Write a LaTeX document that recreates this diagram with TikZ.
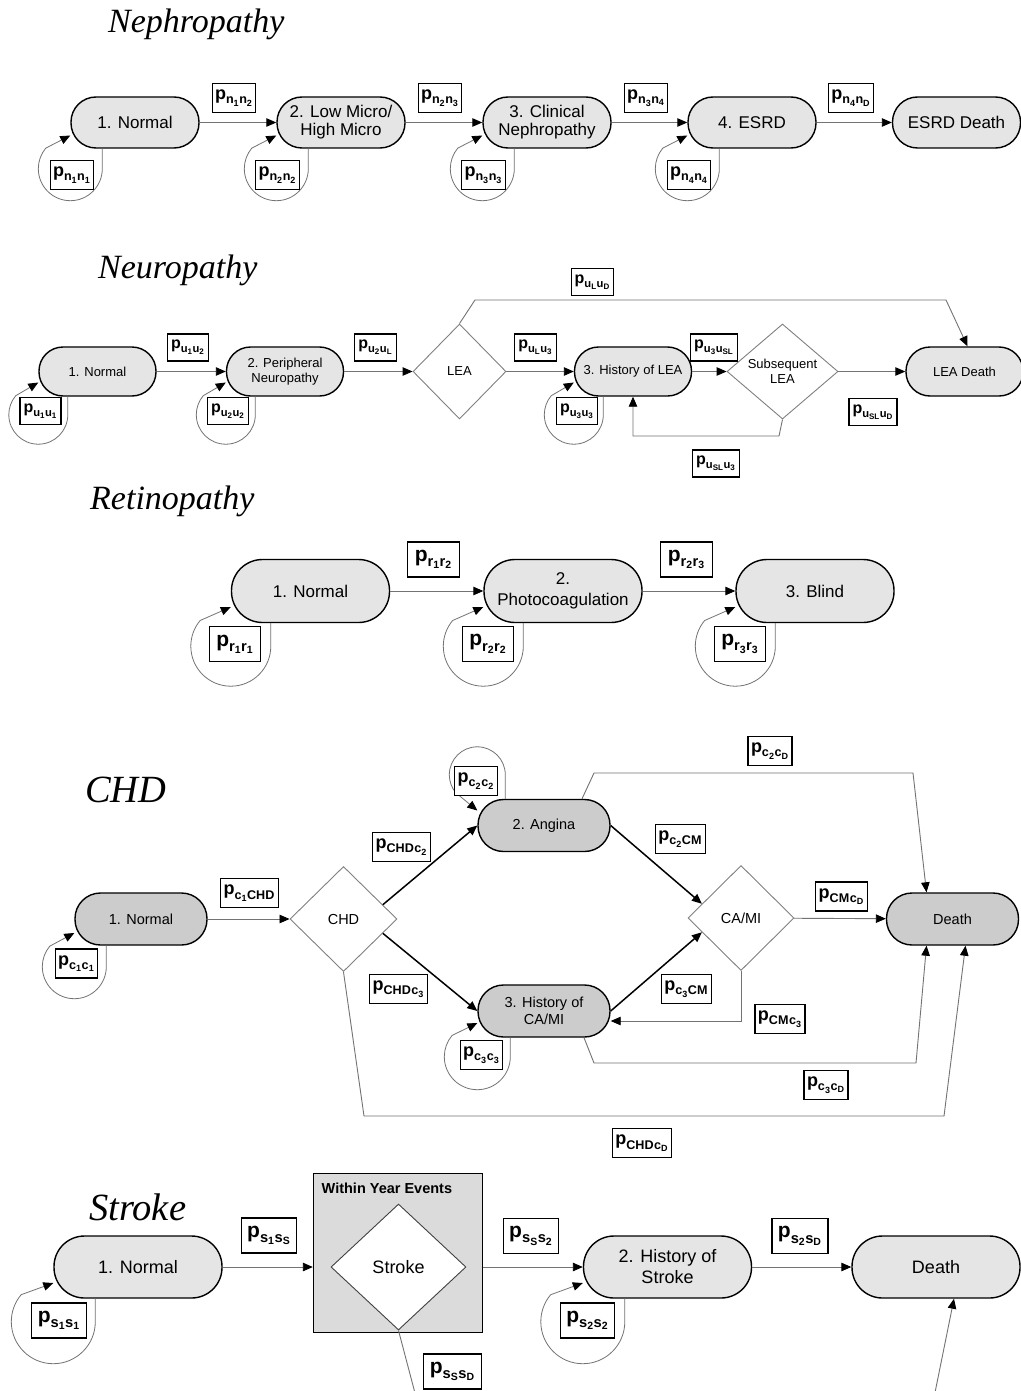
\documentclass[tikz,border=0pt]{standalone}
\usepackage{fontspec}
\usepackage{amsmath}
\setmainfont{Liberation Sans}
\newfontfamily\titlefont{Liberation Serif}
\usetikzlibrary{arrows.meta,shapes.geometric}

% transition probability label, e.g. \trp{n}{1}{n}{2}
\newcommand{\trp}[4]{$\textbf{p}_{\textbf{#1}_{\textbf{#2}}\textbf{#3}_{\textbf{#4}}}$}
% loop below a state: node, radius, drop, arrow offset
\newcommand{\selfloop}[4]{%
  \draw[loopline] (#1.west |- #1.south) ++(#2,0) -- ++(0,-#3)
    arc[start angle=0,end angle=-220,radius=#2] -- ([yshift=-#4]#1.west);}

\tikzset{
  pill/.style={rectangle, draw=black, line width=1.4pt, fill=gray!20, inner sep=0pt, align=center},
  nephpill/.style={pill, minimum width=128pt, minimum height=51pt, rounded corners=25pt, font=\fontsize{17}{18}\selectfont},
  neuropill/.style={pill, minimum width=117pt, minimum height=49pt, rounded corners=24pt, font=\fontsize{13}{15.5}\selectfont},
  retpill/.style={pill, minimum width=158pt, minimum height=63pt, rounded corners=31pt, font=\fontsize{17}{21}\selectfont},
  chdpill/.style={pill, fill=gray!40, minimum width=132pt, minimum height=52pt, rounded corners=25.5pt, font=\fontsize{14.5}{17}\selectfont},
  strokepill/.style={pill, minimum width=168pt, minimum height=62pt, rounded corners=30.5pt, font=\fontsize{18}{21}\selectfont},
  decision/.style={diamond, draw=black!50, line width=0.9pt, fill=white, inner sep=0pt, align=center},
  prob/.style={rectangle, draw=black, line width=1.2pt, fill=white, inner ysep=0pt},
  nephprob/.style={prob, font=\fontsize{18}{18}\selectfont, minimum height=29pt, inner xsep=2.8pt},
  neuroprob/.style={prob, font=\fontsize{16}{16}\selectfont, minimum height=27pt, inner xsep=3.5pt},
  retprob/.style={prob, font=\fontsize{21}{21}\selectfont, minimum height=35pt, inner xsep=7pt},
  chdprob/.style={prob, font=\fontsize{18}{18}\selectfont, minimum height=29pt, inner xsep=3pt},
  strokeprob/.style={prob, font=\fontsize{21}{21}\selectfont, minimum height=35pt, inner xsep=6pt},
  title/.style={font=\titlefont\itshape\fontsize{34}{40}\selectfont, anchor=base west, inner sep=0pt},
  bigtitle/.style={title, font=\titlefont\itshape\fontsize{38.5}{44}\selectfont},
  conn/.style={draw=black!55, line width=0.9pt, -{Triangle[length=10pt,width=8.5pt,color=black]}},
  boldconn/.style={draw=black, line width=1.5pt, -{Triangle[length=10pt,width=8.5pt]}},
  link/.style={draw=black!55, line width=0.9pt},
  loopline/.style={draw=black!55, line width=0.8pt, -{Triangle[length=10pt,width=8.5pt,color=black]}},
  wyebox/.style={rectangle, draw=black, line width=1.4pt, fill=gray!28, minimum width=169pt, minimum height=159pt}
}

\begin{document}
\begin{tikzpicture}[x=1pt,y=1pt]
\path[use as bounding box, fill=white] (0,0) rectangle (1020,-1391);

% Nephropathy
\node[title] (tneph) at (108,-33) {Nephropathy};
\node[nephpill] (n1) at (135,-122.5) {1. Normal};
\node[nephpill] (n2) at (341,-122.5) {2. Low Micro/\\High Micro};
\node[nephpill] (n3) at (547,-122.5) {3. Clinical\\Nephropathy};
\node[nephpill] (n4) at (752,-122.5) {4. ESRD};
\node[nephpill] (nD) at (956.5,-122.5) {ESRD Death};
\draw[conn] (n1) -- (n2);
\draw[conn] (n2) -- (n3);
\draw[conn] (n3) -- (n4);
\draw[conn] (n4) -- (nD);
\selfloop{n1}{32}{20}{13}
\selfloop{n2}{32}{20}{13}
\selfloop{n3}{32}{20}{13}
\selfloop{n4}{32}{20}{13}
\node[nephprob] (p-n12) at (234,-98) {\trp{n}{1}{n}{2}};
\node[nephprob] (p-n23) at (440,-98) {\trp{n}{2}{n}{3}};
\node[nephprob] (p-n34) at (646,-98) {\trp{n}{3}{n}{4}};
\node[nephprob] (p-n4D) at (851,-98) {\trp{n}{4}{n}{D}};
\node[nephprob] (p-n11) at (72,-175) {\trp{n}{1}{n}{1}};
\node[nephprob] (p-n22) at (277.5,-175) {\trp{n}{2}{n}{2}};
\node[nephprob] (p-n33) at (483.5,-175) {\trp{n}{3}{n}{3}};
\node[nephprob] (p-n44) at (689,-175) {\trp{n}{4}{n}{4}};

% Neuropathy
\node[title] (tneuro) at (98,-278) {Neuropathy};
\node[neuropill] (u1) at (97.5,-371.5) {1. Normal};
\node[neuropill] (u2) at (285,-371.5) {2. Peripheral\\Neuropathy};
\node[decision, minimum width=93pt, minimum height=95pt, font=\fontsize{13}{15.5}\selectfont] (lea) at (459.5,-371.5) {LEA};
\node[neuropill] (u3) at (633,-371.5) {3. History of LEA};
\node[decision, minimum width=111pt, minimum height=95pt, font=\fontsize{13}{15.5}\selectfont] (slea) at (782.5,-371.5) {Subsequent\\LEA};
\node[neuropill] (uD) at (964.5,-371.5) {LEA Death};
\draw[conn] (u1) -- (u2);
\draw[conn] (u2) -- (lea);
\draw[conn] (lea) -- (u3);
\draw[conn] (u3) -- (slea);
\draw[conn] (slea) -- (uD);
\draw[conn] (lea.north) -- (475,-300) -- (946,-300) -- ([xshift=3pt]uD.north);
\draw[conn] (slea.south) -- (779,-436) -| (u3.south);
\selfloop{u1}{29.5}{18}{11}
\selfloop{u2}{29.5}{18}{11}
\selfloop{u3}{29.5}{18}{11}
\node[neuroprob] (p-u12) at (188,-347.5) {\trp{u}{1}{u}{2}};
\node[neuroprob] (p-u2L) at (375.5,-347.5) {\trp{u}{2}{u}{L}};
\node[neuroprob] (p-uL3) at (535.5,-347.5) {\trp{u}{L}{u}{3}};
\node[neuroprob] (p-u3SL) at (714,-347.5) {\trp{u}{3}{u}{SL}};
\node[neuroprob] (p-uLD) at (592.5,-282) {\trp{u}{L}{u}{D}};
\node[neuroprob] (p-uSLD) at (873,-412) {\trp{u}{SL}{u}{D}};
\node[neuroprob] (p-uSL3) at (716,-463.5) {\trp{u}{SL}{u}{3}};
\node[neuroprob] (p-u11) at (40.5,-411) {\trp{u}{1}{u}{1}};
\node[neuroprob] (p-u22) at (228,-411) {\trp{u}{2}{u}{2}};
\node[neuroprob] (p-u33) at (577,-411) {\trp{u}{3}{u}{3}};

% Retinopathy
\node[title] (tret) at (90,-509) {Retinopathy};
\node[retpill] (r1) at (310.5,-591) {1. Normal};
\node[retpill] (r2) at (563,-591) {2.\\Photocoagulation};
\node[retpill] (r3) at (815,-591) {3. Blind};
\draw[conn] (r1) -- (r2);
\draw[conn] (r2) -- (r3);
\selfloop{r1}{40}{23}{16}
\selfloop{r2}{40}{23}{16}
\selfloop{r3}{40}{23}{16}
\node[retprob] (p-r12) at (433.5,-559.5) {\trp{r}{1}{r}{2}};
\node[retprob] (p-r23) at (686.5,-559.5) {\trp{r}{2}{r}{3}};
\node[retprob] (p-r11) at (235,-644) {\trp{r}{1}{r}{1}};
\node[retprob] (p-r22) at (488,-644) {\trp{r}{2}{r}{2}};
\node[retprob] (p-r33) at (740,-644) {\trp{r}{3}{r}{3}};

% CHD
\node[bigtitle] (tchd) at (85,-802) {CHD};
\node[chdpill] (c1) at (141,-919) {1. Normal};
\node[decision, minimum width=107pt, minimum height=105pt, font=\fontsize{14.5}{17}\selectfont] (chd) at (343.5,-919) {CHD};
\node[chdpill] (c2) at (544,-825.5) {2. Angina};
\node[chdpill] (c3) at (544,-1011) {3. History of\\CA/MI};
\node[decision, minimum width=106pt, minimum height=105pt, font=\fontsize{14.5}{17}\selectfont] (cami) at (741,-918) {CA/MI};
\node[chdpill] (cD) at (952.5,-919) {Death};
\draw[conn] (c1) -- (chd);
\draw[boldconn] (chd.20) -- (c2.west);
\draw[boldconn] (chd.-20) -- (c3.west);
\draw[boldconn] (c2.east) -- (cami.160);
\draw[boldconn] (c3.east) -- (cami.200);
\draw[conn] (cami.south) |- ([yshift=-10pt]c3.east);
\draw[conn] (cami) -- (cD);
\draw[conn] ([xshift=38pt]c2.north) -- (594,-773) -- (913,-773) -- ([xshift=-26pt]cD.north);
\draw[conn] ([xshift=40pt]c3.south) -- (594,-1063) -- (916,-1063) -- ([xshift=-26pt]cD.south);
\draw[conn] (chd.south) -- (364,-1116) -- (944,-1116) -- ([xshift=13pt]cD.south);
\selfloop{c1}{32}{21}{14}
\selfloop{c3}{33}{19}{12}
\draw[loopline] (c2.west |- c2.north) ++(28,0) -- ++(0,24)
  arc[start angle=0,end angle=220,radius=28] -- ([yshift=15pt]c2.west);
\node[chdprob] (p-c1CHD) at (249.5,-893) {\trp{c}{1}{CHD}{}};
\node[chdprob] (p-CHDc2) at (401.5,-847) {\trp{CHD}{}{c}{2}};
\node[chdprob] (p-CHDc3) at (398.5,-989) {\trp{CHD}{}{c}{3}};
\node[chdprob] (p-c2CM) at (680.5,-839) {\trp{c}{2}{CM}{}};
\node[chdprob] (p-c3CM) at (686.5,-989) {\trp{c}{3}{CM}{}};
\node[chdprob] (p-CMc3) at (780,-1019) {\trp{CM}{}{c}{3}};
\node[chdprob] (p-CMcD) at (841.5,-896.5) {\trp{CM}{}{c}{D}};
\node[chdprob] (p-c2cD) at (770,-751) {\trp{c}{2}{c}{D}};
\node[chdprob] (p-c3cD) at (826,-1085) {\trp{c}{3}{c}{D}};
\node[chdprob] (p-CHDcD) at (642,-1143) {\trp{CHD}{}{c}{D}};
\node[chdprob] (p-c1c1) at (76.5,-963.5) {\trp{c}{1}{c}{1}};
\node[chdprob] (p-c2c2) at (476,-781) {\trp{c}{2}{c}{2}};
\node[chdprob] (p-c3c3) at (481.5,-1055) {\trp{c}{3}{c}{3}};

% Stroke
\node[bigtitle] (tstroke) at (89,-1220) {Stroke};
\node[strokepill] (s1) at (138,-1267) {1. Normal};
\node[wyebox] (wye) at (398,-1253) {};
\node[anchor=west, inner sep=0pt, font=\fontsize{14.5}{16}\selectfont\bfseries] (wyet) at (321.5,-1188) {Within Year Events};
\node[decision, draw=black!75, minimum width=135pt, minimum height=126pt, font=\fontsize{18}{21}\selectfont] (sdia) at (398.5,-1267) {Stroke};
\node[strokepill] (s2) at (667.5,-1267) {2. History of\\Stroke};
\node[strokepill] (sD) at (936,-1267) {Death};
\coordinate (sout) at (415.5,-1395);
\coordinate (sin) at (934.5,-1395);
\draw[conn] (s1) -- (s1 -| wye.west);
\draw[conn] (s2 -| wye.east) -- (s2);
\draw[conn] (s2) -- (sD);
\draw[link] (sdia.south) -- (sout);
\draw[conn] (sin) -- ([xshift=18pt]sD.south);
\selfloop{s1}{42}{23}{16}
\selfloop{s2}{42}{23}{16}
\node[strokeprob] (p-s1S) at (269,-1235.5) {\trp{s}{1}{s}{S}};
\node[strokeprob] (p-sS2) at (531,-1236) {\trp{s}{S}{s}{2}};
\node[strokeprob] (p-s2D) at (800,-1236) {\trp{s}{2}{s}{D}};
\node[strokeprob] (p-sSD) at (452.5,-1371.5) {\trp{s}{S}{s}{D}};
\node[strokeprob] (p-s11) at (59,-1320.5) {\trp{s}{1}{s}{1}};
\node[strokeprob] (p-s22) at (587.5,-1320.5) {\trp{s}{2}{s}{2}};
\end{tikzpicture}
\end{document}
